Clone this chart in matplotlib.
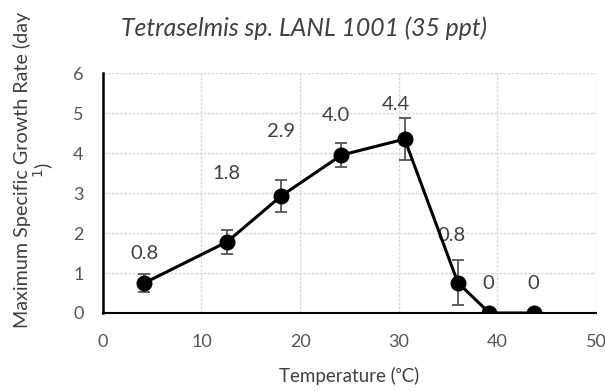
import matplotlib

matplotlib.use("Agg")
import matplotlib.pyplot as plt

plt.rcParams["font.family"] = ["Lato", "DejaVu Sans"]

# Growth rate vs. temperature
temperature = [4.2, 12.6, 18.1, 24.2, 30.6, 36.0, 39.2, 43.7]
growth_rate = [0.75, 1.78, 2.93, 3.95, 4.35, 0.76, 0.0, 0.0]
growth_err = [0.22, 0.30, 0.40, 0.30, 0.52, 0.57, 0.0, 0.0]
label_values = [0.8, 1.8, 2.9, 4.0, 4.4, 0.8, 0, 0]

# where each value label sits (data coordinates)
label_x = [4.2, 12.5, 18.1, 23.6, 29.7, 35.4, 39.1, 43.6]
label_y = [1.48, 3.5, 4.53, 4.93, 5.22, 1.93, 0.75, 0.75]

x_ticks = [0, 10, 20, 30, 40, 50]
y_ticks = [0, 1, 2, 3, 4, 5, 6]

TEXT = "#404040"

fig = plt.figure(figsize=(6.05, 3.91), dpi=100)
ax = fig.add_axes([0.170, 0.1995, 0.815, 0.6135])

ax.errorbar(
    temperature, growth_rate, yerr=growth_err,
    color="black", linewidth=2.2, marker="o", markersize=10.5,
    ecolor="#555555", elinewidth=1.3, capsize=4.5, capthick=1.3, zorder=3,
)

# value labels sit underneath the line
for x, y, v in zip(label_x, label_y, label_values):
    txt = f"{v:.1f}" if v else "0"
    ax.text(x, y, txt, ha="center", va="center", fontsize=14.5, color=TEXT, zorder=2)

ax.set_xlim(0, 50)
ax.set_ylim(0, 6)
ax.set_xticks(x_ticks)
ax.set_yticks(y_ticks)
ax.tick_params(axis="x", length=0, labelsize=13, labelcolor="#555555", pad=15)
ax.tick_params(axis="y", length=0, labelsize=13, labelcolor="#555555", pad=14)

ax.grid(True, color="#d9d9d9", linestyle=(0, (2, 1)), linewidth=1.0, zorder=0)
ax.set_axisbelow(True)
for side in ("top", "right"):
    ax.spines[side].set_visible(False)
ax.spines["left"].set_linewidth(1.8)
ax.spines["bottom"].set_linewidth(1.5)

ax.set_xlabel("Temperature (ᵒC)", fontsize=13.5, color=TEXT)
ax.xaxis.set_label_coords(0.5, -0.225)
ax.set_ylabel("Maximum Specific Growth Rate (day\n$^{1}$)",
              fontsize=14.2, color=TEXT, linespacing=1.0)
ax.yaxis.set_label_coords(-0.095, 0.595)

fig.text(0.503, 0.928, "Tetraselmis sp. LANL 1001 (35 ppt)", ha="center", va="center",
         fontsize=17.8, style="italic", color=TEXT)

fig.savefig("out.png", dpi=100, facecolor="white")
